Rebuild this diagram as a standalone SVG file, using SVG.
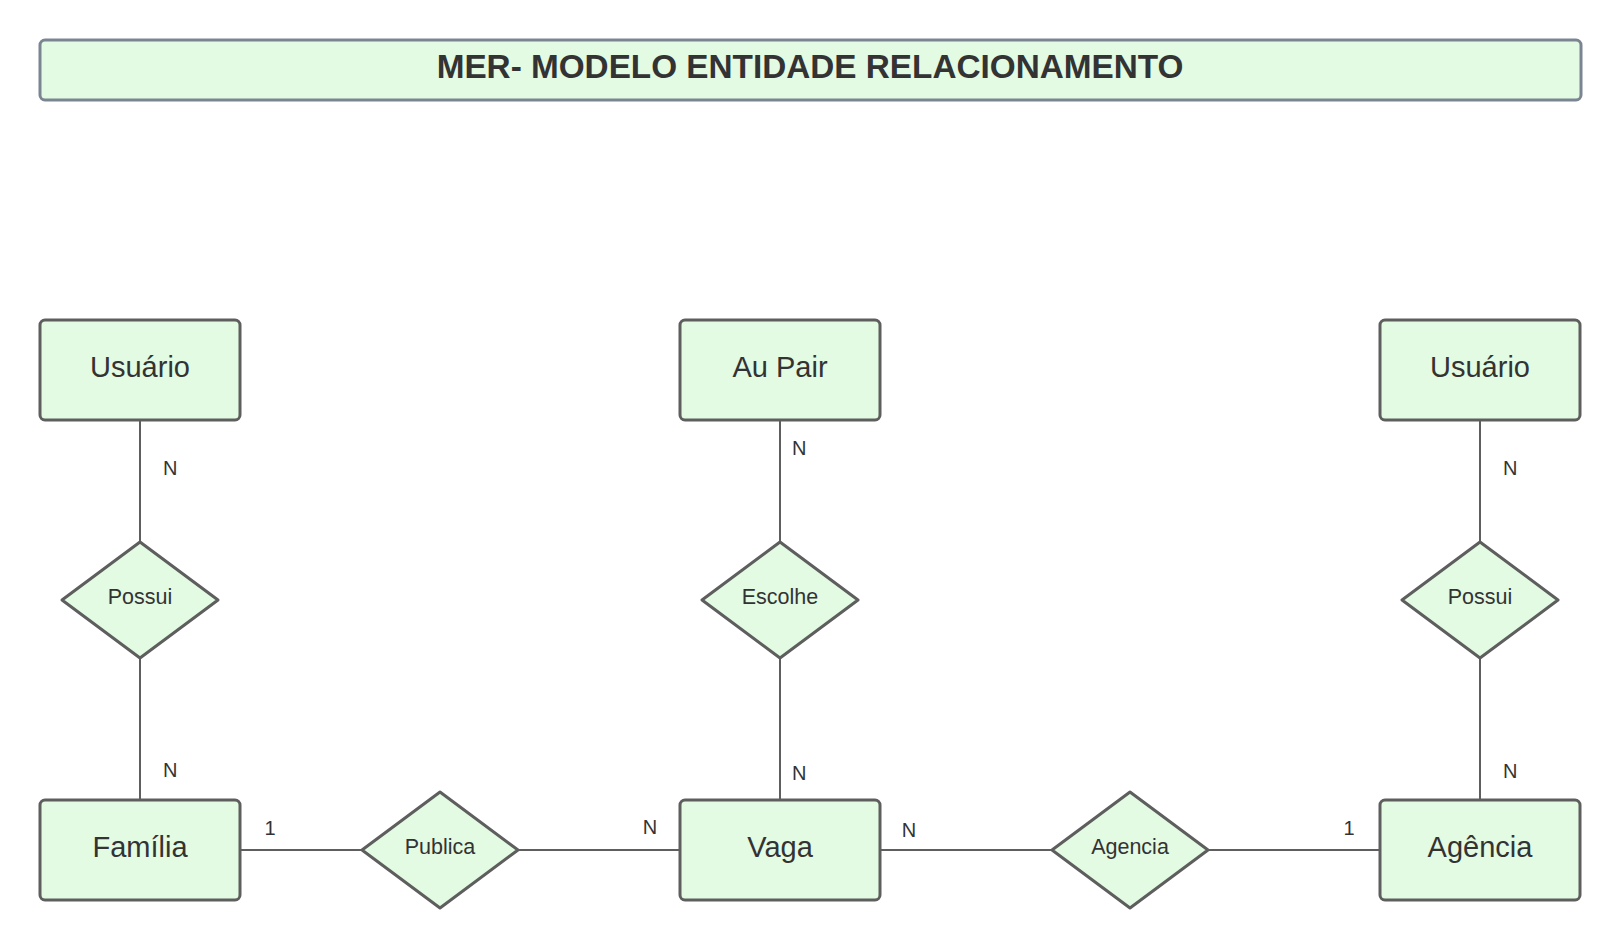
<svg xmlns="http://www.w3.org/2000/svg" width="1620" height="950" viewBox="0 0 1620 950">
<style>
.ent{fill:#e3fae3;stroke:#5e5e5e;stroke-width:3}
.rel{fill:#e3fae3;stroke:#5e5e5e;stroke-width:3;stroke-linejoin:round}
.et{font-family:"Liberation Sans",Arial,sans-serif;font-size:29px;fill:#333333;text-anchor:middle}
.rt{font-family:"Liberation Sans",Arial,sans-serif;font-size:21.5px;fill:#333333;text-anchor:middle}
.lbl{font-family:"Liberation Sans",Arial,sans-serif;font-size:20px;fill:#333333}
.ln{stroke:#5e5e5e;stroke-width:2;fill:none}
</style>
<rect width="1620" height="950" fill="#ffffff"/>
<g id="title">
<rect x="40" y="40" width="1541" height="60" rx="5" fill="#e3fae3" stroke="#7b8592" stroke-width="3"/>
<text x="810" y="78" font-family="Liberation Sans,Arial,sans-serif" font-size="33.3" font-weight="bold" fill="#333333" text-anchor="middle">MER- MODELO ENTIDADE RELACIONAMENTO</text>
</g>
<g id="connectors">
<line class="ln" x1="140" y1="420" x2="140" y2="542"/>
<line class="ln" x1="140" y1="658" x2="140" y2="800"/>
<line class="ln" x1="780" y1="420" x2="780" y2="542"/>
<line class="ln" x1="780" y1="658" x2="780" y2="800"/>
<line class="ln" x1="1480" y1="420" x2="1480" y2="542"/>
<line class="ln" x1="1480" y1="658" x2="1480" y2="800"/>
<line class="ln" x1="240" y1="850" x2="362" y2="850"/>
<line class="ln" x1="518" y1="850" x2="680" y2="850"/>
<line class="ln" x1="880" y1="850" x2="1052" y2="850"/>
<line class="ln" x1="1208" y1="850" x2="1380" y2="850"/>
<text class="lbl" x="163" y="475">N</text>
<text class="lbl" x="163" y="777">N</text>
<text class="lbl" x="792" y="455">N</text>
<text class="lbl" x="792" y="780">N</text>
<text class="lbl" x="1503" y="475">N</text>
<text class="lbl" x="1503" y="778">N</text>
<text class="lbl" x="270" y="835" text-anchor="middle">1</text>
<text class="lbl" x="650" y="834" text-anchor="middle">N</text>
<text class="lbl" x="909" y="837" text-anchor="middle">N</text>
<text class="lbl" x="1349" y="835" text-anchor="middle">1</text>
</g>
<g id="usuario1">
<rect class="ent" x="40" y="320" width="200" height="100" rx="5"/>
<text class="et" x="140" y="377">Usuário</text>
</g>
<g id="aupair">
<rect class="ent" x="680" y="320" width="200" height="100" rx="5"/>
<text class="et" x="780" y="377">Au Pair</text>
</g>
<g id="usuario2">
<rect class="ent" x="1380" y="320" width="200" height="100" rx="5"/>
<text class="et" x="1480" y="377">Usuário</text>
</g>
<g id="possui1">
<polygon class="rel" points="140,542 218,600 140,658 62,600"/>
<text class="rt" x="140" y="604">Possui</text>
</g>
<g id="escolhe">
<polygon class="rel" points="780,542 858,600 780,658 702,600"/>
<text class="rt" x="780" y="604">Escolhe</text>
</g>
<g id="possui2">
<polygon class="rel" points="1480,542 1558,600 1480,658 1402,600"/>
<text class="rt" x="1480" y="604">Possui</text>
</g>
<g id="familia">
<rect class="ent" x="40" y="800" width="200" height="100" rx="5"/>
<text class="et" x="140" y="857">Família</text>
</g>
<g id="publica">
<polygon class="rel" points="440,792 518,850 440,908 362,850"/>
<text class="rt" x="440" y="854">Publica</text>
</g>
<g id="vaga">
<rect class="ent" x="680" y="800" width="200" height="100" rx="5"/>
<text class="et" x="780" y="857">Vaga</text>
</g>
<g id="agencia-rel">
<polygon class="rel" points="1130,792 1208,850 1130,908 1052,850"/>
<text class="rt" x="1130" y="854">Agencia</text>
</g>
<g id="agencia">
<rect class="ent" x="1380" y="800" width="200" height="100" rx="5"/>
<text class="et" x="1480" y="857">Agência</text>
</g>
</svg>
